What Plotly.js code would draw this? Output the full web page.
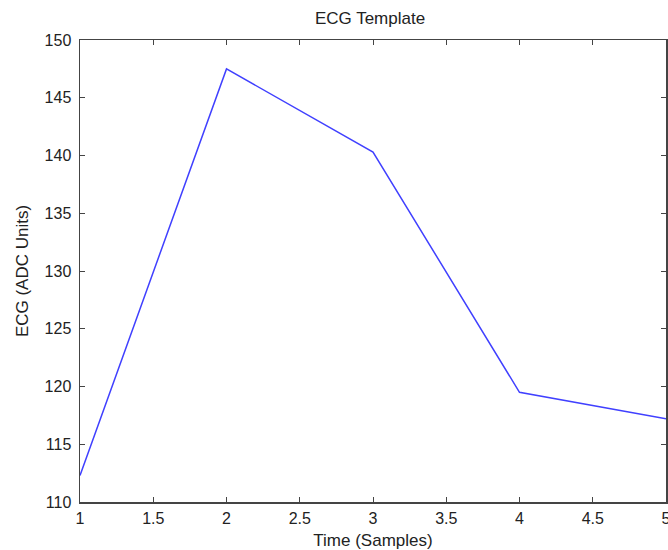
<!DOCTYPE html>
<html>
<head>
<meta charset="utf-8">
<script src="https://cdn.plot.ly/plotly-3.0.1.min.js"></script>
<style>html,body{margin:0;padding:0;background:#fff;}#chart{width:668px;height:550px;}</style>
</head>
<body>
<div id="chart"></div>
<script>
const timeSamples = [1, 2, 3, 4, 5];
const ecgValues = [112.3, 147.5, 140.3, 119.5, 117.2];
const xTicks = [1, 1.5, 2, 2.5, 3, 3.5, 4, 4.5, 5];
const yTicks = [110, 115, 120, 125, 130, 135, 140, 145, 150];

const fam = 'Liberation Sans, Arial, sans-serif';
const tickFont = {family: fam, size: 16, color: '#222'};
const titleFont = {family: fam, size: 17, color: '#222'};

const trace = {
  x: timeSamples,
  y: ecgValues,
  type: 'scatter',
  mode: 'lines',
  line: {color: '#4040ff', width: 1.5},
  hoverinfo: 'skip'
};

const layout = {
  width: 668,
  height: 550,
  margin: {l: 80, r: 2, t: 40, b: 48},
  paper_bgcolor: '#fff',
  plot_bgcolor: '#fff',
  showlegend: false,
  title: {
    text: 'ECG Template',
    font: titleFont,
    x: 370/668, xanchor: 'center',
    y: 1 - 18/550, yanchor: 'middle'
  },
  xaxis: {
    range: [1, 5],
    tickvals: xTicks,
    ticktext: xTicks.map(String),
    ticks: 'inside', ticklen: 5, tickcolor: '#444', tickwidth: 1,
    showline: true, linecolor: '#444', linewidth: 1.5, mirror: 'ticks',
    showgrid: false, zeroline: false,
    tickfont: tickFont,
    ticklabeloverflow: 'allow',
    ticklabelstandoff: 1,
    title: {text: 'Time (Samples)', font: titleFont, standoff: 8}
  },
  yaxis: {
    range: [110, 150],
    tickvals: yTicks,
    ticktext: yTicks.map(String),
    ticks: 'inside', ticklen: 5, tickcolor: '#444', tickwidth: 1,
    showline: true, linecolor: '#444', linewidth: 1.5, mirror: 'ticks',
    showgrid: false, zeroline: false,
    tickfont: tickFont,
    ticklabelstandoff: 4,
    title: {text: 'ECG (ADC Units)', font: titleFont, standoff: 11}
  }
};

Plotly.newPlot('chart', [trace], layout, {staticPlot: true, displayModeBar: false});
</script>
</body>
</html>
